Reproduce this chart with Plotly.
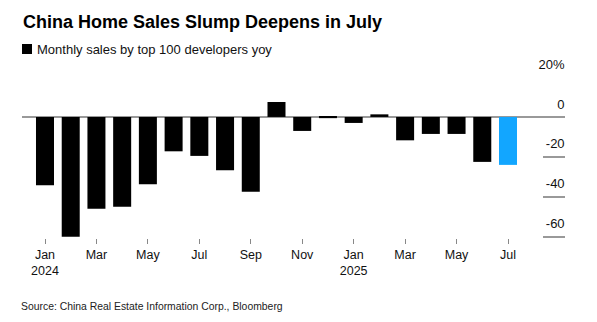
import plotly.graph_objects as go

months = ["Jan 2024", "Feb 2024", "Mar 2024", "Apr 2024", "May 2024", "Jun 2024",
          "Jul 2024", "Aug 2024", "Sep 2024", "Oct 2024", "Nov 2024", "Dec 2024",
          "Jan 2025", "Feb 2025", "Mar 2025", "Apr 2025", "May 2025", "Jun 2025",
          "Jul 2025"]
sales_yoy = [-34.2, -60.0, -46.0, -45.0, -33.7, -17.2, -19.5, -26.7, -37.5,
             7.5, -7.0, -0.6, -3.0, 1.3, -11.7, -8.5, -8.5, -22.5, -24.0]
bar_colors = ["#000000"] * 18 + ["#12a6ff"]

tick_positions = ["Jan 2024", "Mar 2024", "May 2024", "Jul 2024", "Sep 2024",
                  "Nov 2024", "Jan 2025", "Mar 2025", "May 2025", "Jul 2025"]
tick_labels = ["Jan<br>2024", "Mar", "May", "Jul", "Sep", "Nov",
               "Jan<br>2025", "Mar", "May", "Jul"]
y_ticks = [20, 0, -20, -40, -60]
y_tick_labels = ["20%", "0", "-20", "-40", "-60"]

FONT = "Liberation Sans, Arial, sans-serif"

fig = go.Figure()
fig.add_trace(go.Bar(
    x=months, y=sales_yoy,
    marker=dict(color=bar_colors, line=dict(width=0)),
    width=0.7,
    name="Monthly sales by top 100 developers yoy",
    showlegend=False,
))

fig.update_layout(
    width=597, height=322,
    margin=dict(l=22, r=32, t=76, b=84),
    paper_bgcolor="white", plot_bgcolor="white",
    font=dict(family=FONT, color="#111111", size=13),
    bargap=0.3,
    xaxis=dict(
        type="category",
        categoryorder="array", categoryarray=months,
        range=[-0.894, 20.216],
        tickmode="array", tickvals=tick_positions, ticktext=tick_labels,
        ticks="outside", ticklen=5, tickwidth=1, tickcolor="#888888",
        showgrid=False, showline=False, zeroline=False,
        tickfont=dict(size=12.5, color="#111111"),
    ),
    yaxis=dict(
        side="right",
        range=[-60.6, 20.5],
        tickmode="array", tickvals=y_ticks, ticktext=y_tick_labels,
        ticks="inside", ticklen=22, tickwidth=1.5, tickcolor="#999999",
        ticklabelposition="inside",
        ticklabelshift=-13, ticklabelstandoff=-22,
        ticklabeloverflow="allow",
        showgrid=False, showline=False,
        zeroline=True, zerolinecolor="#999999", zerolinewidth=1.5,
        tickfont=dict(size=13, color="#111111"),
    ),
)

fig.add_annotation(
    xref="paper", yref="paper", x=0, y=1, xanchor="left", yanchor="middle",
    xshift=-1, yshift=54,
    text="<b>China Home Sales Slump Deepens in July</b>", showarrow=False,
    font=dict(size=18, color="#000000", family=FONT),
)
# legend key square
fig.add_shape(
    type="rect", xref="paper", yref="paper",
    xsizemode="pixel", ysizemode="pixel", xanchor=0, yanchor=1,
    x0=0, x1=10, y0=22, y1=32,
    fillcolor="#000000", line=dict(width=0),
)
fig.add_annotation(
    xref="paper", yref="paper", x=0, y=1, xanchor="left", yanchor="middle",
    xshift=13, yshift=27,
    text="Monthly sales by top 100 developers yoy", showarrow=False,
    font=dict(size=13, color="#111111", family=FONT),
)
fig.add_annotation(
    xref="paper", yref="paper", x=0, y=0, xanchor="left", yanchor="middle",
    xshift=-3, yshift=-68,
    text="Source: China Real Estate Information Corp., Bloomberg", showarrow=False,
    font=dict(size=10.4, color="#222222", family=FONT),
)

fig.write_html("out.html")
